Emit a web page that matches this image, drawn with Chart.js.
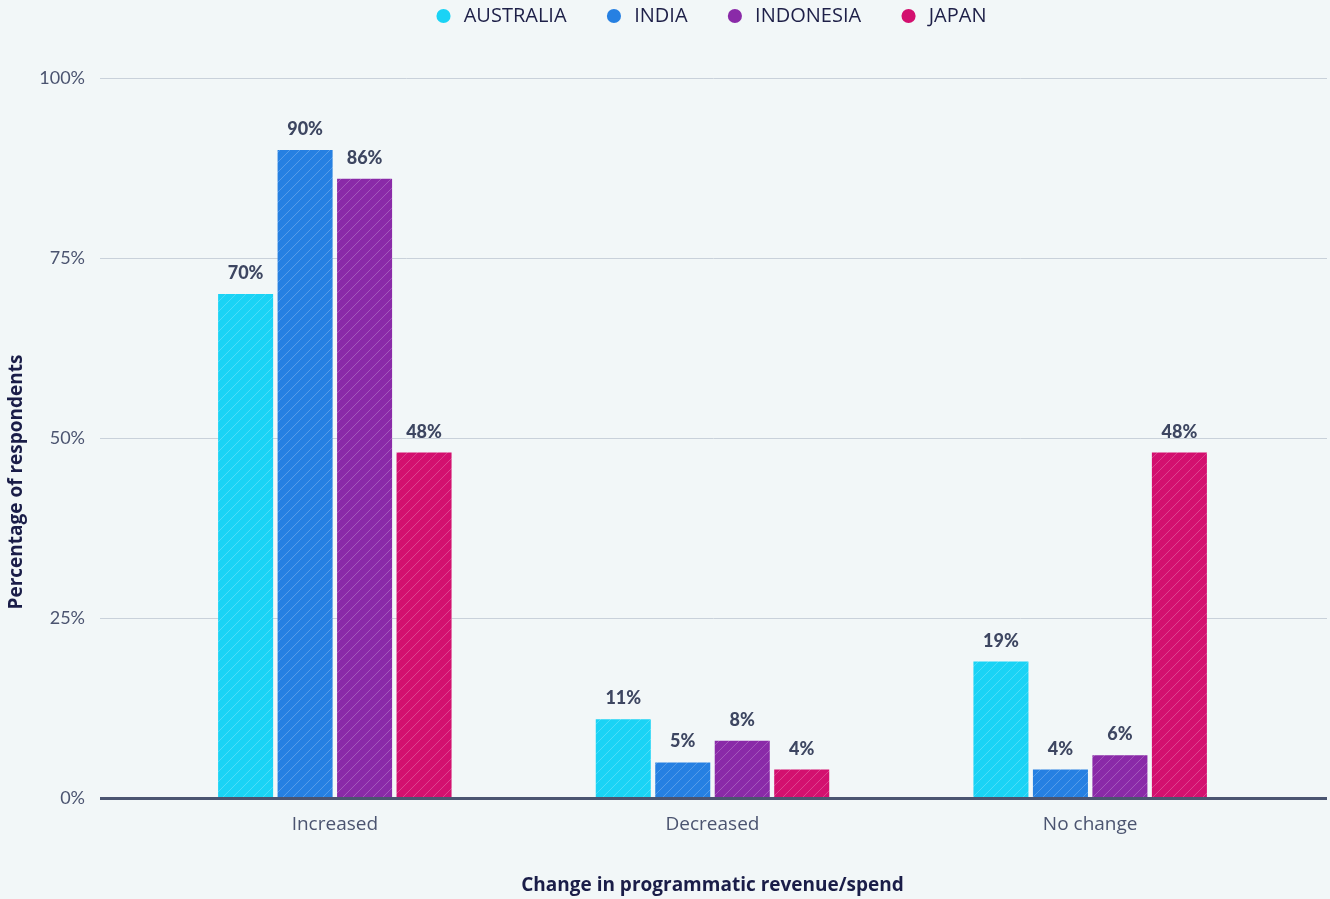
<!DOCTYPE html>
<html>
<head>
<meta charset="utf-8">
<script src="https://cdn.jsdelivr.net/npm/chart.js@4/dist/chart.umd.min.js"></script>
<style>
  html, body { margin: 0; padding: 0; background: #f2f7f8; }
  #wrap { width: 1330px; height: 899px; }
</style>
</head>
<body>
<div id="wrap"><canvas id="chart"></canvas></div>
<script>
// data
const categories = ['Increased', 'Decreased', 'No change'];
const countries = ['AUSTRALIA', 'INDIA', 'INDONESIA', 'JAPAN'];
const australia = [70, 11, 19];
const india = [90, 5, 4];
const indonesia = [86, 8, 6];
const japan = [48, 4, 48];
const yTicks = [0, 25, 50, 75, 100];

const colors = ['#1ad3f5', '#2680e2', '#8a2aa8', '#d3106f'];

// striped fill like the original
function hatch(color) {
  const c = document.createElement('canvas');
  c.width = 10; c.height = 10;
  const g = c.getContext('2d');
  g.fillStyle = color;
  g.fillRect(0, 0, 10, 10);
  g.strokeStyle = 'rgba(255,255,255,0.22)';
  g.lineWidth = 1;
  g.beginPath();
  g.moveTo(-1, 11); g.lineTo(11, -1);
  g.moveTo(-6, 6); g.lineTo(6, -6);
  g.moveTo(4, 16); g.lineTo(16, 4);
  g.stroke();
  return g.createPattern(c, 'repeat');
}

const gridLeft = 100, gridRight = 1327;

const extraGrid = {
  id: 'extraGrid',
  afterLayout(chart) {
    // center the legend over the plot, as in the original
    chart.legend.left = chart.chartArea.left;
    chart.legend.right = chart.chartArea.right;
  },
  beforeDatasetsDraw(chart) {
    const ctx = chart.ctx, y = chart.scales.y;
    ctx.save();
    ctx.strokeStyle = '#c9d1da';
    ctx.lineWidth = 1;
    yTicks.forEach(function(v) {
      if (v === 0) return;
      const py = Math.round(y.getPixelForValue(v)) + 0.5;
      ctx.beginPath();
      ctx.moveTo(gridLeft, py);
      ctx.lineTo(gridRight, py);
      ctx.stroke();
    });
    // y axis title
    ctx.translate(17, 482);
    ctx.rotate(-Math.PI / 2);
    ctx.fillStyle = '#1a1d48';
    ctx.font = 'bold 19px "Open Sans"';
    ctx.textAlign = 'center';
    ctx.textBaseline = 'middle';
    ctx.fillText('Percentage of respondents', 0, 0);
    ctx.restore();
  },
  afterDatasetsDraw(chart) {
    const ctx = chart.ctx, y = chart.scales.y;
    ctx.save();
    // baseline
    const py = y.getPixelForValue(0);
    ctx.strokeStyle = '#4b5571';
    ctx.lineWidth = 3;
    ctx.beginPath();
    ctx.moveTo(gridLeft, py);
    ctx.lineTo(gridRight, py);
    ctx.stroke();
    // value labels
    ctx.fillStyle = '#3d4661';
    ctx.font = '900 18px Lato';
    ctx.textAlign = 'center';
    ctx.textBaseline = 'alphabetic';
    chart.data.datasets.forEach(function(ds, i) {
      chart.getDatasetMeta(i).data.forEach(function(bar, j) {
        ctx.fillText(ds.data[j] + '%', bar.x, bar.y - 15);
      });
    });
    ctx.restore();
  }
};

const legendSpace = {
  id: 'legendSpace',
  beforeInit(chart) {
    const fit = chart.legend.fit;
    chart.legend.fit = function() {
      fit.bind(chart.legend)();
      this.height = 78;
    };
  }
};

const seriesData = [australia, india, indonesia, japan];

new Chart(document.getElementById('chart'), {
  type: 'bar',
  data: {
    labels: categories,
    datasets: countries.map(function(name, i) {
      return {
        label: name,
        data: seriesData[i],
        backgroundColor: hatch(colors[i]),
        borderWidth: 0,
        categoryPercentage: 0.63,
        barPercentage: 0.925
      };
    })
  },
  options: {
    responsive: true,
    maintainAspectRatio: false,
    animation: false,
    layout: { padding: { left: 0, right: 51, top: 0, bottom: 0 } },
    plugins: {
      legend: {
        position: 'top',
        labels: {
          usePointStyle: true,
          pointStyle: 'circle',
          boxWidth: 10,
          boxHeight: 10,
          padding: 6,
          color: '#1e2048',
          font: { family: 'Open Sans', size: 20 },
          generateLabels(chart) {
            const n = chart.data.datasets.length;
            return chart.data.datasets.map(function(ds, i) {
              return {
                text: ' ' + ds.label + (i < n - 1 ? '       ' : ''),
                fillStyle: colors[i],
                strokeStyle: colors[i],
                lineWidth: 0,
                pointStyle: 'circle',
                fontColor: '#1e2048',
                datasetIndex: i
              };
            });
          }
        }
      },
      tooltip: { enabled: false }
    },
    scales: {
      x: {
        grid: { display: false, drawTicks: false },
        border: { display: false },
        ticks: {
          color: '#4b5470',
          padding: 15,
          font: { family: 'Open Sans', size: 19 }
        },
        title: {
          display: true,
          text: 'Change in programmatic revenue/spend',
          color: '#1a1d48',
          font: { family: 'Open Sans', size: 19, weight: 'bold' },
          padding: { top: 23, bottom: 2 }
        }
      },
      y: {
        min: 0,
        max: 100,
        afterBuildTicks(scale) {
          scale.ticks = yTicks.map(function(v) { return { value: v }; });
        },
        afterFit(scale) { scale.width = 146; },
        grid: { display: false, drawTicks: false },
        border: { display: false },
        ticks: {
          color: '#4b5470',
          padding: 61,
          font: { family: 'Lato', size: 18 },
          callback: function(v) { return v + '%'; }
        }
      }
    }
  },
  plugins: [extraGrid, legendSpace]
});
</script>
</body>
</html>
